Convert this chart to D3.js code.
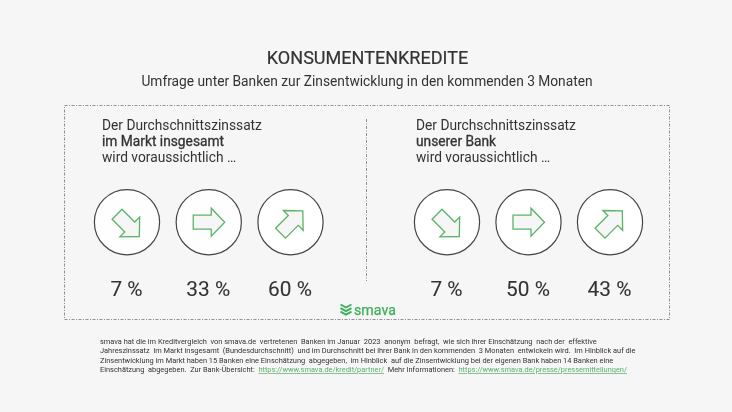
<!DOCTYPE html>
<html><head><meta charset="utf-8">
<script src="https://cdn.jsdelivr.net/npm/d3@7"></script>
<style>html,body{margin:0;padding:0;background:#f6f6f6}svg{display:block;opacity:.999;will-change:opacity}text{font-family:Roboto,sans-serif;fill:#333}</style>
</head><body><svg id="c" width="732" height="412"></svg>
<script>
const title = "KONSUMENTENKREDITE";
const subtitle = "Umfrage unter Banken zur Zinsentwicklung in den kommenden 3 Monaten";
const directions = ["down","flat","up"];
const marketValues = [7,33,60];
const bankValues = [7,50,43];
const marketHeading = ["Der Durchschnittszinssatz","im Markt insgesamt","wird voraussichtlich …"];
const bankHeading = ["Der Durchschnittszinssatz","unserer Bank","wird voraussichtlich …"];
const footLines = [
 [["smava hat die im Kreditvergleich  von smava.de  vertretenen  Banken im Januar  2023  anonym  befragt,  wie sich ihrer Einschätzung  nach der  effektive",0]],
 [["Jahreszinssatz  im Markt insgesamt  (Bundesdurchschnitt)  und im Durchschnitt bei ihrer Bank in den kommenden  3 Monaten  entwickeln wird.  Im Hinblick auf die",0]],
 [["Zinsentwicklung im Markt haben 15 Banken eine Einschätzung  abgegeben,  im Hinblick  auf die Zinsentwicklung bei der eigenen Bank haben 14 Banken eine",0]],
 [["Einschätzung  abgegeben.  Zur Bank-Übersicht:  ",0],["https://www.smava.de/kredit/partner/",1],["  Mehr Informationen:  ",0],["https://www.smava.de/presse/pressemitteilungen/",1]]
];
const green="#5cb268", dark="#444";
const svg=d3.select("#c");
const rotation=d3.scaleOrdinal().domain(directions).range([45,0,-45]);
const nudge={down:[1,3],flat:[0,0],up:[1,0]};
const arrowShape=[[-15.5,-7],[2.5,-7],[2.5,-14],[16,0],[2.5,14],[2.5,7],[-15.5,7]];

svg.append("text").attr("x",367.5).attr("y",63.5).attr("text-anchor","middle")
 .attr("font-size",18.05).attr("stroke","#333").attr("stroke-width",.2).text(title);
svg.append("text").attr("x",367).attr("y",85.5).attr("text-anchor","middle")
 .attr("font-size",13.75).text(subtitle);

svg.append("rect").attr("x",64.5).attr("y",105.5).attr("width",605).attr("height",214)
 .attr("fill","none").attr("stroke","#777").attr("stroke-width",.8).attr("stroke-dasharray","3 1.5 1 1.5");
svg.append("line").attr("x1",366.5).attr("x2",366.5).attr("y1",119).attr("y2",281)
 .attr("stroke","#777").attr("stroke-width",.8).attr("stroke-dasharray","3 1.5 1 1.5");

function panel(x0,x1,textX,heading,values){
 const x=d3.scalePoint().domain(directions).range([x0,x1]);
 const g=svg.append("g");
 heading.forEach((t,i)=>{
  const h=g.append("text").attr("x",textX).attr("y",129.5+i*16)
   .attr("font-size",13.75).text(t);
  if(i===1) h.attr("stroke","#333").attr("stroke-width",.3);
 });
 const item=g.selectAll("g").data(directions).join("g")
   .attr("transform",d=>`translate(${x(d)},222.2)`);
 item.append("circle").attr("r",32.6).attr("fill","#fff").attr("stroke",dark).attr("stroke-width",1.2);
 item.append("polygon")
   .attr("points",arrowShape.map(p=>p.join(",")).join(" "))
   .attr("transform",d=>`translate(${nudge[d]}) rotate(${rotation(d)})`)
   .attr("fill","#f6f6f6").attr("stroke",green).attr("stroke-width",1.3);
 item.append("text").data(values).attr("x",-.5).attr("y",74.3).attr("text-anchor","middle")
   .attr("font-size",20.8).attr("stroke","#333").attr("stroke-width",.1).text(d=>d+" %");
}
panel(127,290.5,102,marketHeading,marketValues);
panel(447,610,416,bankHeading,bankValues);

const logo=svg.append("g").attr("transform","translate(340,304)").attr("fill","none").attr("stroke","#3fae5a").attr("stroke-width",1.9);
[0,3.6,7.2].forEach(o=>logo.append("path").attr("d",`M0.5 ${o+.5}L6 ${o+3.5}L11.5 ${o+.5}`));
svg.append("text").attr("x",354).attr("y",314.5).attr("font-size",14.2)
 .attr("stroke","#3fae5a").attr("stroke-width",.25).style("fill","#3fae5a").text("smava");

footLines.forEach((line,i)=>{
 const t=svg.append("text").attr("x",100).attr("y",344+i*9.35).attr("font-size",7.42).style("white-space","pre");
 line.forEach(([s,link])=>{
  const sp=t.append("tspan").text(s);
  if(link) sp.attr("text-decoration","underline").style("fill","#5cb268");
 });
});
</script></body></html>
